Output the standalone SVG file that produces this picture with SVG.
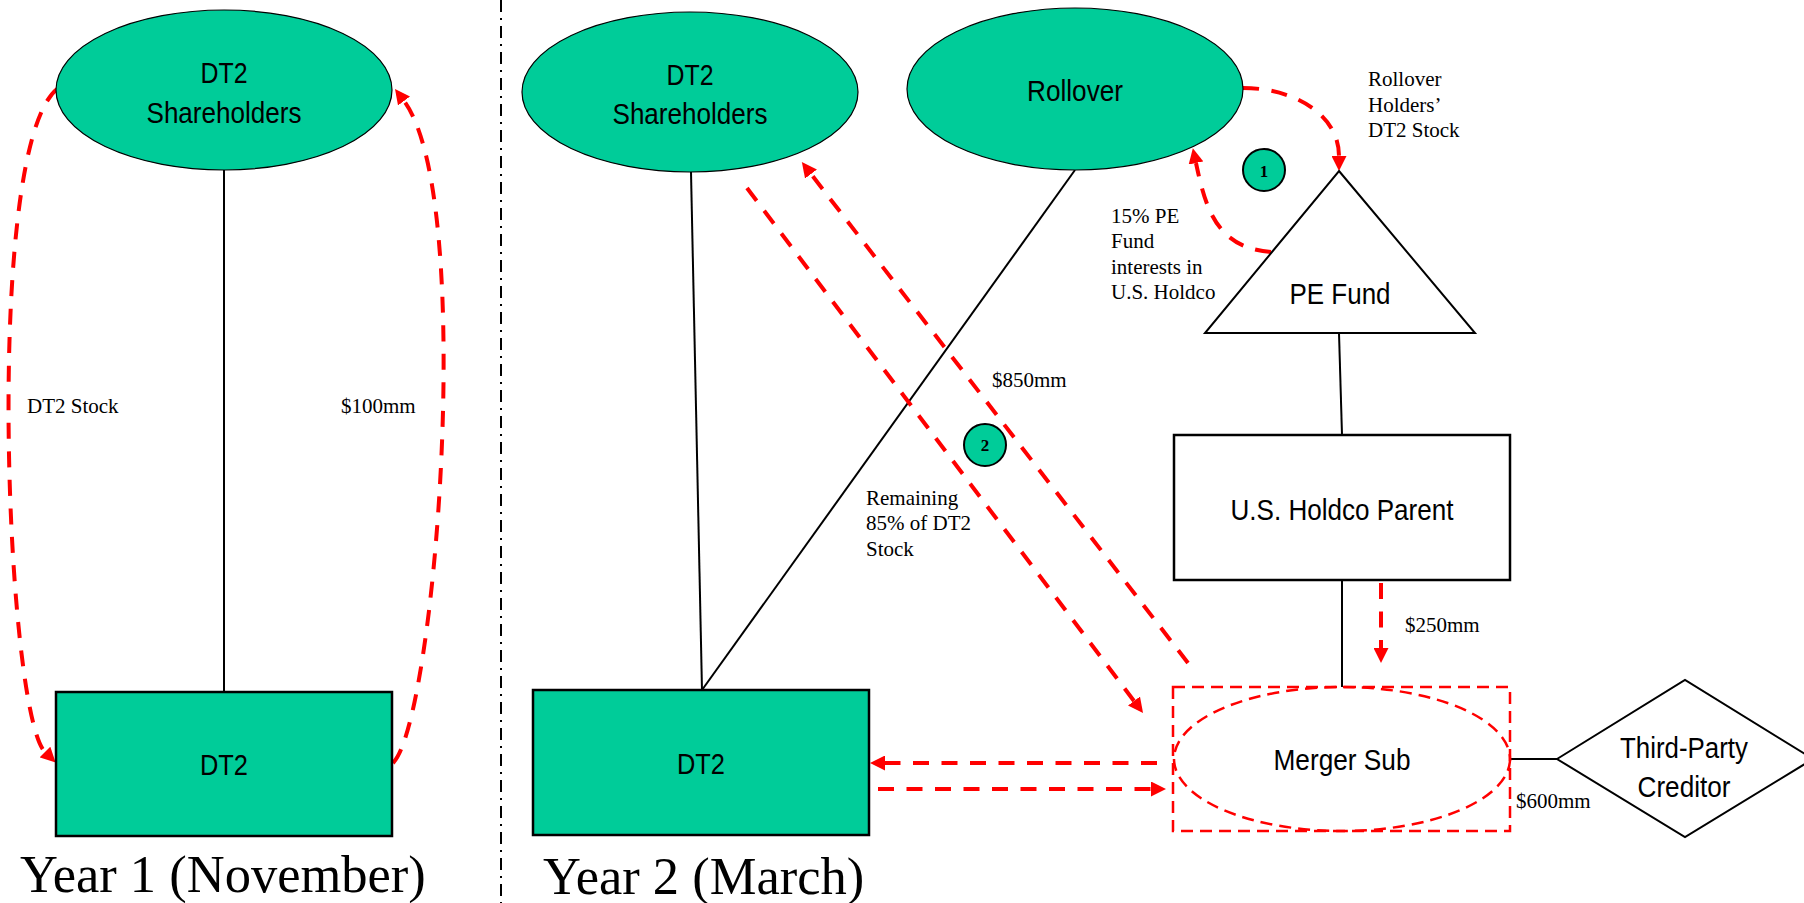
<svg xmlns="http://www.w3.org/2000/svg" width="1804" height="903" viewBox="0 0 1804 903">
<defs>
<style>
.green{fill:#00CC99;stroke:#000;stroke-width:1.2}
.box{fill:#00CC99;stroke:#000;stroke-width:2.5}
.white{fill:#fff;stroke:#000;stroke-width:2.5}
.shape{fill:#fff;stroke:#000;stroke-width:2}
.badge{fill:#00CC99;stroke:#000;stroke-width:2}
.lbl{font-family:"Liberation Sans",Arial,sans-serif;font-size:30px;fill:#000;text-anchor:middle}
.note{font-family:"Liberation Serif","Times New Roman",serif;font-size:21px;fill:#000}
.title{font-family:"Liberation Serif","Times New Roman",serif;font-size:52.5px;fill:#000}
.step{font-family:"Liberation Serif","Times New Roman",serif;font-size:17px;font-weight:bold;fill:#000;text-anchor:middle}
.link{fill:none;stroke:#000;stroke-width:2}
.flow{fill:none;stroke:#FF0000;stroke-width:4;stroke-dasharray:16 12.5;marker-end:url(#arrow)}
.outline{fill:none;stroke:#FF0000;stroke-width:2.5;stroke-dasharray:12 7}
.divider{stroke:#000;stroke-width:2;stroke-dasharray:12 6 2 6}
</style>
<marker id="arrow" viewBox="0 0 15 15" markerWidth="15" markerHeight="15" markerUnits="userSpaceOnUse" refX="0" refY="7.5" orient="auto">
<path d="M0,0 L15,7.5 L0,15 z" fill="#FF0000"/>
</marker>
</defs>
<rect width="1804" height="903" fill="#fff"/>

<!-- panel divider -->
<line class="divider" x1="501" y1="0" x2="501" y2="903"/>

<!-- connectors -->
<g id="connectors">
<path class="link" d="M224,170 L224,692"/>
<path class="link" d="M691,172 L702,690"/>
<path class="link" d="M1075,170 L702,690"/>
<path class="link" d="M1339,333 L1342,435"/>
<path class="link" d="M1342,580 L1342,687"/>
<path class="link" d="M1510,759 L1557,759"/>
<!-- year 1 flows -->
<path class="flow" d="M57,89 C-17,150 6,713 45,752"/>
<path class="flow" d="M393,763 C436,720 476,197 404,101"/>
<!-- year 2 flows -->
<path class="flow" d="M1243,88 C1295,88 1339,115 1339,156"/>
<path class="flow" d="M1271,252 C1215,248 1205,205 1196,163"/>
<path class="flow" d="M747,188 L1134,701"/>
<path class="flow" d="M1188,663 L811,174"/>
<path class="flow" d="M1157,763 L885,763"/>
<path class="flow" d="M878,789 L1151,789"/>
<path class="flow" d="M1381,583 L1381,648"/>
</g>

<!-- year 1 nodes -->
<g id="y1-shareholders">
<ellipse class="green" cx="224" cy="90" rx="168" ry="80"/>
<text class="lbl" x="224" y="83" textLength="47" lengthAdjust="spacingAndGlyphs">DT2</text>
<text class="lbl" x="224" y="123" textLength="155" lengthAdjust="spacingAndGlyphs">Shareholders</text>
</g>
<g id="y1-dt2">
<rect class="box" x="56" y="692" width="336" height="144"/>
<text class="lbl" x="224" y="775" textLength="48" lengthAdjust="spacingAndGlyphs">DT2</text>
</g>

<!-- year 2 nodes -->
<g id="y2-shareholders">
<ellipse class="green" cx="690" cy="92" rx="168" ry="80"/>
<text class="lbl" x="690" y="85" textLength="47" lengthAdjust="spacingAndGlyphs">DT2</text>
<text class="lbl" x="690" y="124" textLength="155" lengthAdjust="spacingAndGlyphs">Shareholders</text>
</g>
<g id="rollover">
<ellipse class="green" cx="1075" cy="89" rx="168" ry="81"/>
<text class="lbl" x="1075" y="101" textLength="96" lengthAdjust="spacingAndGlyphs">Rollover</text>
</g>
<g id="pe-fund">
<polygon class="shape" points="1339,171 1475,333 1205,333"/>
<text class="lbl" x="1340" y="304" textLength="101" lengthAdjust="spacingAndGlyphs">PE Fund</text>
</g>
<g id="holdco-parent">
<rect class="white" x="1174" y="435" width="336" height="145"/>
<text class="lbl" x="1342" y="520" textLength="223" lengthAdjust="spacingAndGlyphs">U.S. Holdco Parent</text>
</g>
<g id="y2-dt2">
<rect class="box" x="533" y="690" width="336" height="145"/>
<text class="lbl" x="701" y="774" textLength="48" lengthAdjust="spacingAndGlyphs">DT2</text>
</g>
<g id="merger-sub">
<rect class="outline" x="1173" y="687" width="337" height="144"/>
<ellipse class="outline" cx="1342" cy="759" rx="168" ry="72"/>
<text class="lbl" x="1342" y="770" textLength="137" lengthAdjust="spacingAndGlyphs">Merger Sub</text>
</g>
<g id="creditor">
<polygon class="shape" points="1557,759 1685,680 1813,759 1685,837"/>
<text class="lbl" x="1684" y="758" textLength="128" lengthAdjust="spacingAndGlyphs">Third-Party</text>
<text class="lbl" x="1684" y="797" textLength="93" lengthAdjust="spacingAndGlyphs">Creditor</text>
</g>

<!-- step badges -->
<g id="step-1">
<circle class="badge" cx="1264" cy="170" r="21"/>
<text class="step" x="1264" y="177">1</text>
</g>
<g id="step-2">
<circle class="badge" cx="985" cy="445" r="21"/>
<text class="step" x="985" y="451">2</text>
</g>

<!-- flow labels -->
<g id="labels">
<text class="note" x="27" y="413">DT2 Stock</text>
<text class="note" x="341" y="413">$100mm</text>
<text class="note" x="992" y="387">$850mm</text>
<text class="note" x="866" y="505">Remaining</text>
<text class="note" x="866" y="530">85% of DT2</text>
<text class="note" x="866" y="556">Stock</text>
<text class="note" x="1368" y="86">Rollover</text>
<text class="note" x="1368" y="112">Holders’</text>
<text class="note" x="1368" y="137">DT2 Stock</text>
<text class="note" x="1111" y="223">15% PE</text>
<text class="note" x="1111" y="248">Fund</text>
<text class="note" x="1111" y="274">interests in</text>
<text class="note" x="1111" y="299">U.S. Holdco</text>
<text class="note" x="1405" y="632">$250mm</text>
<text class="note" x="1516" y="808">$600mm</text>
</g>

<!-- panel titles -->
<text class="title" x="20" y="892">Year 1 (November)</text>
<text class="title" x="543" y="894">Year 2 (March)</text>
</svg>
